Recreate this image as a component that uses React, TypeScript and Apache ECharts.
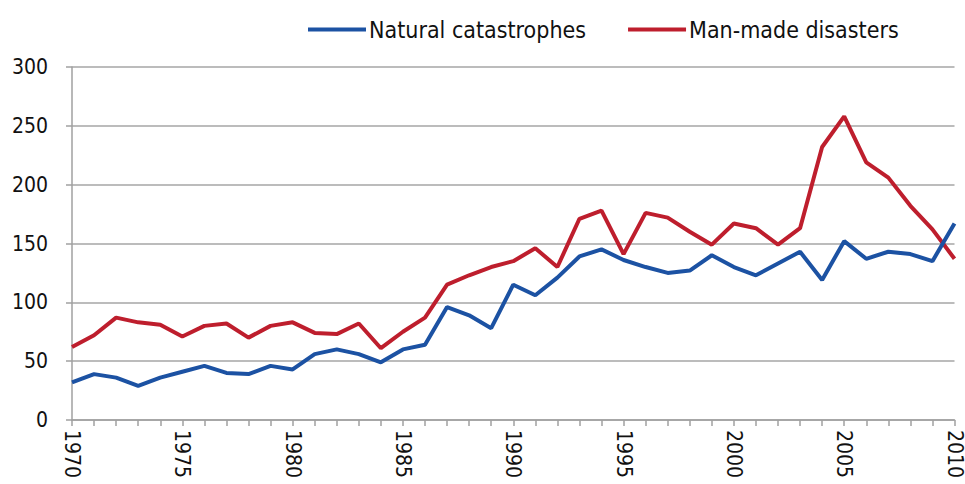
import React, { useEffect, useRef } from "react";
import * as echarts from "echarts";

const years: string[] = [];
for (let y = 1970; y <= 2010; y++) years.push(String(y));

const naturalCatastrophes = [
  32, 39, 36, 29, 36, 41, 46, 40, 39, 46,
  43, 56, 60, 56, 49, 60, 64, 96, 89, 78,
  115, 106, 121, 139, 145, 136, 130, 125, 127, 140,
  130, 123, 133, 143, 119, 152, 137, 143, 141, 135,
  167,
];

const manMadeDisasters = [
  62, 72, 87, 83, 81, 71, 80, 82, 70, 80,
  83, 74, 73, 82, 61, 75, 87, 115, 123, 130,
  135, 146, 130, 171, 178, 141, 176, 172, 160, 149,
  167, 163, 149, 163, 232, 258, 219, 206, 182, 162,
  137,
];

const seriesNames = ["Natural catastrophes", "Man-made disasters"];
const yTicks = { min: 0, max: 300, interval: 50 };

const FONT = "'Liberation Sans Narrow', 'DejaVu Sans Condensed', 'Roboto Condensed', 'Liberation Sans', sans-serif";

export default function App() {
  const ref = useRef<HTMLDivElement>(null);
  useEffect(() => {
    if (!ref.current) return;
    const chart = echarts.init(ref.current, undefined, { renderer: "svg" });
    chart.setOption({
      animation: false,
      backgroundColor: "#ffffff",
      textStyle: { fontFamily: FONT },
      legend: {
        top: 13,
        left: 303,
        itemWidth: 58,
        itemHeight: 4,
        itemGap: 42,
        icon: "rect",
        textStyle: { fontFamily: FONT, fontSize: 23, color: "#111", padding: [0, 0, 0, -2] },
        data: seriesNames,
      },
      grid: { left: 72, right: 10, top: 67, bottom: 64, containLabel: false },
      xAxis: {
        type: "category",
        data: years,
        boundaryGap: false,
        axisLine: { show: true, lineStyle: { color: "#a0a0a0", width: 1.5 } },
        axisTick: { show: true, interval: 0, length: 6, lineStyle: { color: "#a0a0a0", width: 1.5 } },
        axisLabel: {
          interval: 4,
          rotate: -90,
          fontFamily: FONT,
          fontSize: 21,
          color: "#111",
          margin: 10,
        },
        splitLine: { show: false },
      },
      yAxis: {
        type: "value",
        min: yTicks.min,
        max: yTicks.max,
        interval: yTicks.interval,
        axisLine: { show: true, lineStyle: { color: "#a0a0a0", width: 1.5 } },
        axisTick: { show: true, length: 6, lineStyle: { color: "#a0a0a0", width: 1.5 } },
        axisLabel: { fontFamily: FONT, fontSize: 21, color: "#111", margin: 24 },
        splitLine: { show: true, lineStyle: { color: "#a6a6a6", width: 1.5 } },
      },
      series: [
        {
          name: seriesNames[0],
          type: "line",
          data: naturalCatastrophes,
          showSymbol: false,
          symbol: "none",
          lineStyle: { color: "#1c52a3", width: 4 },
          itemStyle: { color: "#1c52a3" },
          z: 3,
        },
        {
          name: seriesNames[1],
          type: "line",
          data: manMadeDisasters,
          showSymbol: false,
          symbol: "none",
          lineStyle: { color: "#be1e2d", width: 4 },
          itemStyle: { color: "#be1e2d" },
          z: 2,
        },
      ],
    });
    return () => chart.dispose();
  }, []);
  return <div ref={ref} style={{ width: 965, height: 484, position: "absolute", left: 0, top: 0 }} />;
}
